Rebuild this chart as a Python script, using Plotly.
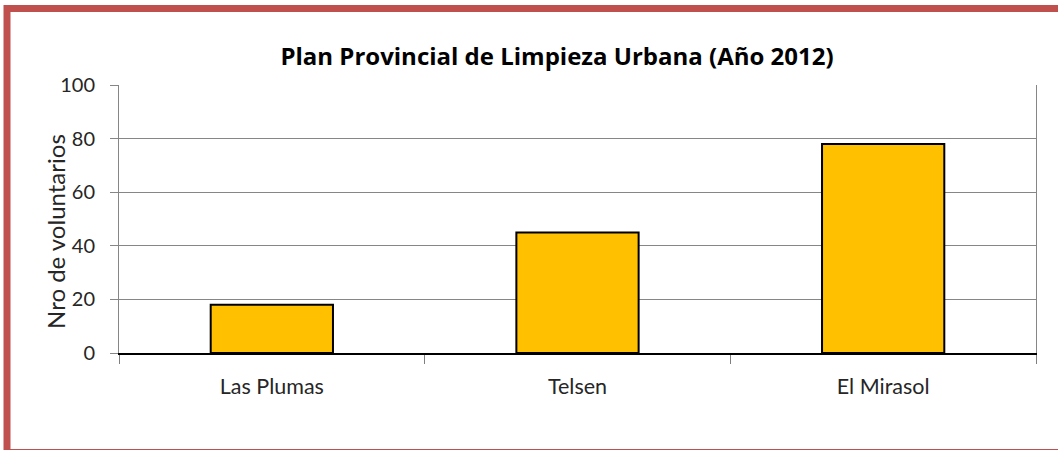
import plotly.graph_objects as go

categories = ["Las Plumas", "Telsen", "El Mirasol"]
values = [18, 45, 78]
y_ticks = [0, 20, 40, 60, 80, 100]

W, H = 1058, 450
L, R, T, B = 119, 22, 85, 97
pw, ph = W - L - R, H - T - B

def px(x):
    return (x - L) / pw

def py(y):
    return (H - B - y) / ph

FONT = "Lato"

fig = go.Figure()
fig.add_trace(go.Bar(
    x=categories, y=values, width=0.4,
    marker=dict(color="#FFC000", line=dict(color="#000000", width=2)),
    hoverinfo="x+y",
))

fig.update_layout(
    width=W, height=H,
    margin=dict(l=L, r=R, t=T, b=B),
    paper_bgcolor="white", plot_bgcolor="white",
    showlegend=False,
    font=dict(family=FONT, color="#262626"),
    title=dict(
        text="<b>Plan Provincial de Limpieza Urbana (Año 2012)</b>",
        font=dict(family="Open Sans", size=24, color="#000000"),
        x=557 / W, xref="container", xanchor="center",
        y=1 - 57 / H, yref="container", yanchor="middle",
    ),
    xaxis=dict(
        type="category", range=[-0.5, 2.5],
        showgrid=False,
        showline=True, linecolor="#000000", linewidth=2,
        ticks="outside", tickson="boundaries", ticklen=9,
        tickcolor="#7f7f7f", tickwidth=1,
        tickfont=dict(size=21.5, color="#262626"),
        ticklabelstandoff=13,
    ),
    yaxis=dict(
        range=[0, 100], tickvals=y_ticks,
        showgrid=True, gridcolor="#868686", gridwidth=1,
        zeroline=False,
        showline=True, linecolor="#868686", linewidth=1, mirror=True,
        ticks="outside", ticklen=8, tickcolor="#868686", tickwidth=1,
        tickfont=dict(size=20, color="#262626"),
        ticklabelstandoff=11,
    ),
    annotations=[
        dict(text="Nro de voluntarios", textangle=-90,
             xref="paper", yref="paper", x=px(55), y=py(232),
             xanchor="center", yanchor="middle", showarrow=False,
             font=dict(family=FONT, size=24, color="#262626")),
    ],
    shapes=[
        dict(type="rect", xref="paper", yref="paper",
             x0=px(7), x1=px(1068), y0=py(8.5), y1=py(452.5),
             line=dict(color="#C0504D", width=7), fillcolor="rgba(0,0,0,0)",
             layer="above"),
    ],
)

fig.write_html("out.html", config={"displayModeBar": False},
               post_script="document.body.style.margin='0px';")
